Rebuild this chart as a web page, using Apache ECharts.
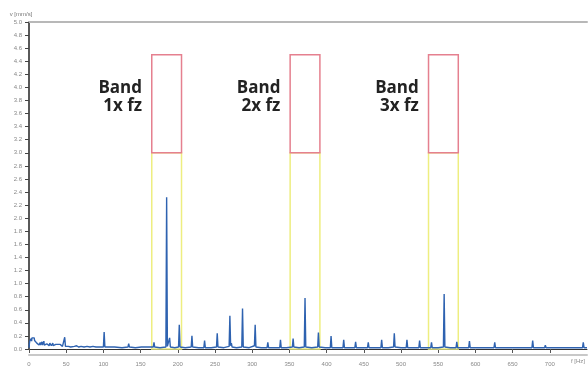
<!DOCTYPE html>
<html lang="en">
<head>
    <meta charset="UTF-8">
    <title>Spectrum bands</title>
    <script src="https://cdn.jsdelivr.net/npm/echarts@6/dist/echarts.min.js"></script>
    <style>
        html, body { margin: 0; padding: 0; background: #fff; }
    </style>
</head>
<body>
    <div id="chart_div" style="width: 588px; height: 370px;"></div>
</body>
    <script type="text/javascript">

       // band limits in Hz (around 1x, 2x, 3x fz)
       var bandNames = ['Band\n1x fz', 'Band\n2x fz', 'Band\n3x fz'];
       var bandLow = [165, 351, 537];
       var bandHigh = [205, 391, 577];
       var warnLevel = 3.0;
       var alarmLevel = 4.5;

       var xTicks = [0, 50, 100, 150, 200, 250, 300, 350, 400, 450, 500, 550, 600, 650, 700];

       // spectrum [f Hz, v mm/s]
       var spectrum = [
           [0, 0.02], [0.5, 0.08], [1, 0.12], [1.5, 0.09], [2, 0.14], [2.5, 0.11], [3, 0.16], [3.5, 0.12],
           [4, 0.17], [4.5, 0.14], [5, 0.19], [5.5, 0.15], [6, 0.18], [6.5, 0.16], [7, 0.17], [7.5, 0.13],
           [8, 0.16], [8.5, 0.12], [9, 0.15], [9.5, 0.11], [10, 0.13], [10.5, 0.09], [11, 0.12], [11.5, 0.08],
           [12, 0.11], [12.5, 0.07], [13, 0.10], [13.5, 0.06], [14, 0.09], [14.5, 0.05], [15, 0.10], [15.5, 0.06],
           [16, 0.08], [17, 0.05], [17.5, 0.11], [18, 0.06], [19, 0.09], [19.5, 0.05], [20, 0.12], [20.5, 0.06],
           [21, 0.08], [22, 0.05], [22.5, 0.09], [23, 0.06], [24, 0.08], [24.5, 0.05], [25, 0.10], [26, 0.06],
           [26.5, 0.08], [27, 0.05], [28, 0.09], [28.5, 0.06], [29, 0.08], [30, 0.05], [30.5, 0.08], [31, 0.06],
           [32, 0.09], [32.5, 0.05], [33, 0.07], [34, 0.05], [34.5, 0.08], [35, 0.06], [36, 0.07], [36.5, 0.05],
           [37, 0.08], [38, 0.05], [39, 0.07], [40, 0.04], [40.5, 0.06], [41, 0.05], [42, 0.07], [43, 0.04],
           [44, 0.06], [45, 0.04], [46, 0.05], [47, 0.04], [48, 0.18], [49, 0.04], [51, 0.05], [53, 0.04],
           [56, 0.03], [58, 0.05], [61, 0.04], [64, 0.05], [67, 0.03], [70, 0.04], [74, 0.03], [78, 0.04],
           [82, 0.03], [86, 0.04], [90, 0.03], [95, 0.03], [100, 0.03],
           [101, 0.26], [102, 0.03], [115, 0.03], [125, 0.02], [133, 0.03], [134, 0.08], [135, 0.03],
           [143, 0.02], [151, 0.03], [152, 0.06], [153, 0.02], [160, 0.03], [167, 0.03], [168, 0.10],
           [169, 0.03], [176, 0.02], [184, 0.03], [185, 2.32], [186, 0.04], [188, 0.04], [189, 0.17],
           [190, 0.03], [196, 0.02], [201, 0.03], [202, 0.37], [203, 0.03], [210, 0.02], [218, 0.03],
           [219, 0.20], [220, 0.03], [228, 0.02], [235, 0.02], [236, 0.13], [237, 0.02], [245, 0.02],
           [252, 0.03], [253, 0.24], [254, 0.03], [262, 0.02], [269, 0.04], [270, 0.51], [271, 0.05],
           [272, 0.09], [273, 0.03], [279, 0.02], [286, 0.03], [287, 0.62], [288, 0.03], [296, 0.02],
           [303, 0.05], [304, 0.37], [305, 0.03], [312, 0.02], [320, 0.02], [321, 0.10], [322, 0.02],
           [330, 0.02], [337, 0.02], [338, 0.14], [339, 0.02], [346, 0.02], [354, 0.03], [355, 0.16],
           [356, 0.03], [363, 0.02], [370, 0.03], [371, 0.78], [372, 0.03], [380, 0.02], [388, 0.03],
           [389, 0.25], [390, 0.03], [398, 0.02], [405, 0.02], [406, 0.20], [407, 0.02], [415, 0.02],
           [422, 0.02], [423, 0.14], [424, 0.02], [431, 0.02], [438, 0.02], [439, 0.11], [440, 0.02],
           [448, 0.02], [455, 0.02], [456, 0.10], [457, 0.02], [465, 0.02], [473, 0.02], [474, 0.14],
           [475, 0.02], [483, 0.02], [490, 0.03], [491, 0.24], [492, 0.03], [500, 0.02], [507, 0.02],
           [508, 0.14], [509, 0.02], [517, 0.02], [524, 0.02], [525, 0.13], [526, 0.02], [533, 0.02],
           [540, 0.02], [541, 0.10], [542, 0.02], [550, 0.02], [557, 0.03], [558, 0.84], [559, 0.03],
           [566, 0.02], [574, 0.02], [575, 0.11], [576, 0.02], [584, 0.02], [591, 0.02], [592, 0.12],
           [593, 0.02], [605, 0.02], [615, 0.02], [625, 0.02], [626, 0.10], [627, 0.02], [642, 0.02],
           [643, 0.05], [644, 0.02], [660, 0.02], [676, 0.02], [677, 0.13], [678, 0.02], [693, 0.02],
           [694, 0.06], [695, 0.02], [710, 0.02], [727, 0.02], [728, 0.04], [729, 0.02], [744, 0.02],
           [745, 0.10], [746, 0.02], [750, 0.02]
       ];

       var bandAreas = [];
       for (var i = 0; i < bandLow.length; i++) {
           bandAreas.push([
               {xAxis: bandLow[i], yAxis: 0, itemStyle: {borderColor: '#eeee80'}},
               {xAxis: bandHigh[i], yAxis: warnLevel}
           ]);
           bandAreas.push([
               {name: bandNames[i], xAxis: bandLow[i], yAxis: warnLevel, itemStyle: {borderColor: '#e5808f'},
                label: {show: true}},
               {xAxis: bandHigh[i], yAxis: alarmLevel}
           ]);
       }

       var chart = echarts.init(document.getElementById("chart_div"));
       var options = {
            animation: false,
            grid: {left: 29, right: 0, top: 22, bottom: 21},
            xAxis: [
                {
                    type: 'value', min: 0, max: 750, interval: 50, offset: 9,
                    name: 'f [Hz]', nameLocation: 'end', nameGap: -16,
                    nameTextStyle: {fontSize: 6, color: '#888', verticalAlign: 'top', padding: [9, 0, 0, 0]},
                    axisLine: {lineStyle: {color: '#333', width: 1}},
                    axisTick: {length: 4, lineStyle: {color: '#555'}},
                    axisLabel: {
                        fontSize: 6, color: '#888', margin: 3, showMaxLabel: false,
                        formatter: function (v) { return xTicks.indexOf(v) >= 0 ? String(v) : ''; }
                    },
                    splitLine: {show: false}
                },
                {
                    type: 'value', min: 0, max: 750, position: 'bottom', offset: 6,
                    axisLine: {lineStyle: {color: '#c8c8c8', width: 2}},
                    axisTick: {show: false}, axisLabel: {show: false}, splitLine: {show: false}
                },
                {
                    type: 'value', min: 0, max: 750, position: 'top',
                    axisLine: {lineStyle: {color: '#b8b8b8', width: 2}},
                    axisTick: {show: false}, axisLabel: {show: false}, splitLine: {show: false}
                }
            ],
            yAxis: {
                type: 'value', min: 0, max: 5, interval: 0.2,
                name: 'v [mm/s]', nameLocation: 'end', nameGap: 5,
                nameTextStyle: {fontSize: 6, color: '#777', align: 'center', padding: [0, 0, 0, -16]},
                axisLine: {show: true, lineStyle: {color: '#222', width: 1.5}},
                axisTick: {show: true, length: 4, lineStyle: {color: '#444'}},
                axisLabel: {
                    fontSize: 6, color: '#888', margin: 7,
                    formatter: function (v) { return v.toFixed(1); }
                },
                splitLine: {show: false}
            },
            series: [
                {
                    name: 'bands',
                    type: 'line',
                    data: [],
                    markArea: {
                        silent: true,
                        itemStyle: {color: 'rgba(0,0,0,0)', borderWidth: 1.5},
                        label: {
                            show: true, position: 'left', distance: 9, offset: [0, -7],
                            color: '#222', fontSize: 17, fontWeight: 'bold', lineHeight: 18,
                            fontFamily: '"Open Sans", sans-serif'
                        },
                        data: bandAreas
                    }
                },
                {
                    name: 'spectrum',
                    type: 'line',
                    showSymbol: false,
                    data: spectrum,
                    lineStyle: {color: '#2e62b0', width: 1.4},
                    itemStyle: {color: '#2e62b0'},
                    z: 5
                }
            ]
       };
       chart.setOption(options);

    </script>
</html>
